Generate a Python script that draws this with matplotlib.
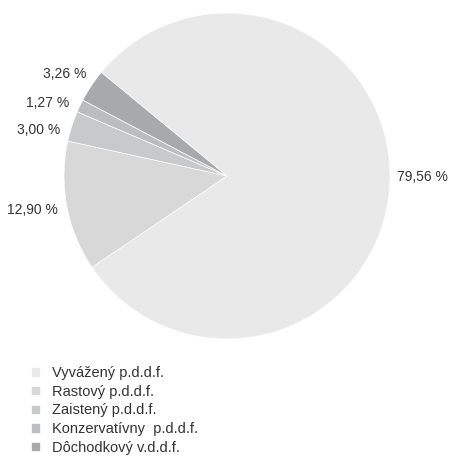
import matplotlib
matplotlib.use("Agg")
import matplotlib.pyplot as plt
import numpy as np

categories = ["Vyvážený p.d.d.f.", "Rastový p.d.d.f.", "Zaistený p.d.d.f.",
              "Konzervatívny  p.d.d.f.", "Dôchodkový v.d.d.f."]
values = [79.56, 12.90, 3.00, 1.27, 3.26]
value_labels = ["79,56 %", "12,90 %", "3,00 %", "1,27 %", "3,26 %"]
colors = ["#e9e9e9", "#d8d8d9", "#c8c9ca", "#bcbdbf", "#a8a9ab"]

# label placement tweaks (degrees offset from wedge middle, radial distance)
label_angle_shift = [2.4, -0.9, 4.1, 3.3, 1.4]
label_dist = [1.196, 1.214, 1.187, 1.186, 1.175]

plt.rcParams['font.family'] = ['Liberation Sans', 'DejaVu Sans']

W, H = 449, 461
fig = plt.figure(figsize=(W / 100, H / 100), dpi=100)
ax = fig.add_axes([0, 0, 1, 1])

cx, cy, r = 227, 176, 163

wedges, _ = ax.pie(
    values, colors=colors, startangle=140.5, counterclock=False,
    wedgeprops=dict(edgecolor="white", linewidth=0.5))

for w, lab, da, d in zip(wedges, value_labels, label_angle_shift, label_dist):
    ang = np.deg2rad((w.theta1 + w.theta2) / 2 + da)
    ax.text(d * np.cos(ang), d * np.sin(ang), lab, ha='center', va='center',
            fontsize=10, color="#333333")

ax.set_xlim(-cx / r, (W - cx) / r)
ax.set_ylim(-(H - cy) / r, cy / r)
ax.set_aspect('auto')
ax.axis('off')

leg = fig.legend(wedges, categories, loc='upper left',
                 bbox_to_anchor=(18 / W, 1 - 353 / H), frameon=False,
                 fontsize=10.5, handlelength=0.62, handleheight=0.6,
                 handletextpad=0.8, labelspacing=0.32, labelcolor="#333333")

fig.savefig("out.png", dpi=100)
